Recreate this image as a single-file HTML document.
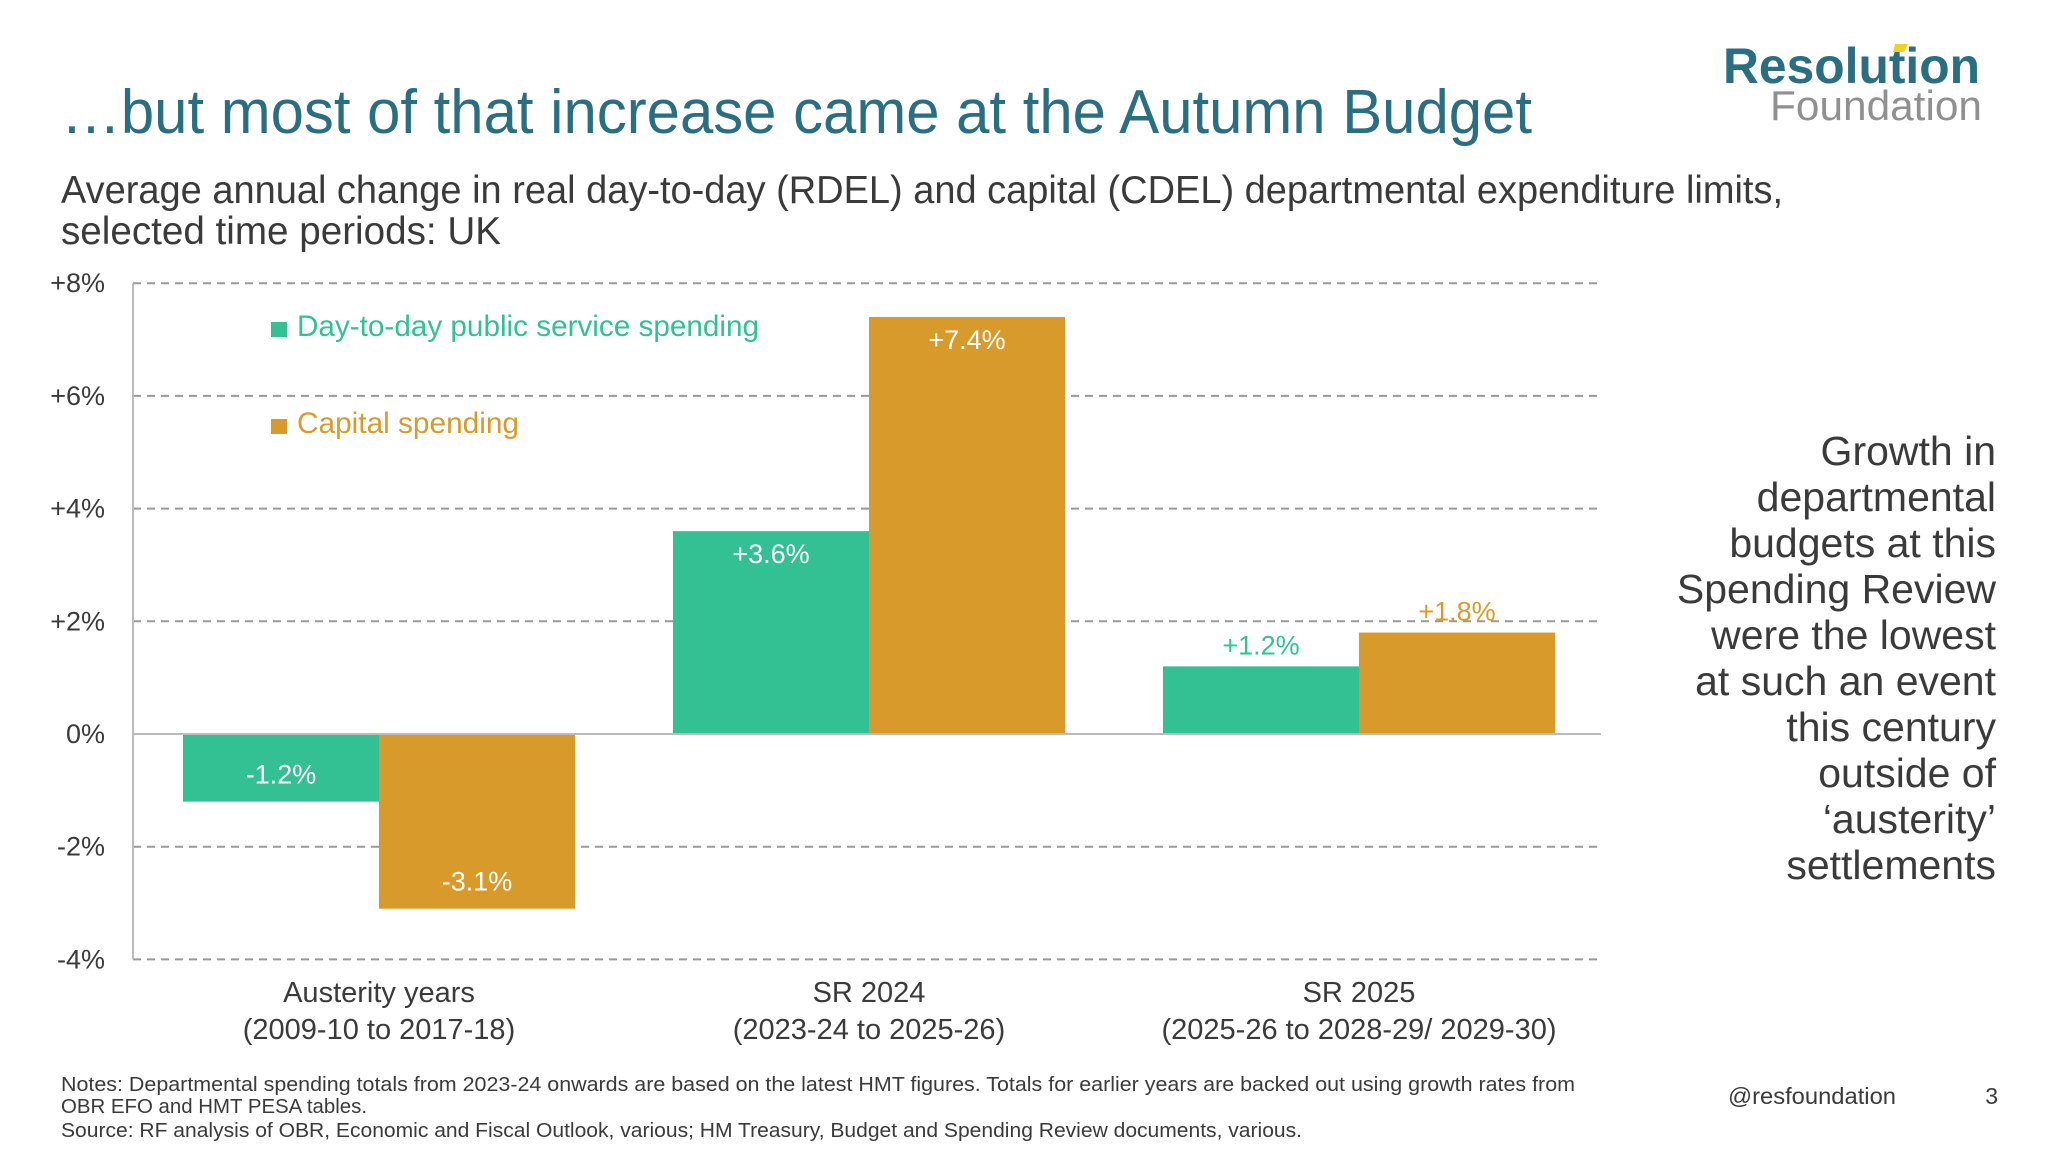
<!DOCTYPE html>
<html><head><meta charset="utf-8"><style>
html,body{margin:0;padding:0;background:#fff;}
svg{display:block;font-family:"Liberation Sans Narrow","Liberation Sans",sans-serif;}
</style></head><body>
<svg id="chart" width="2048" height="1152" viewBox="0 0 2048 1152" xmlns="http://www.w3.org/2000/svg">
<text x="1723" y="83" font-size="50" font-weight="bold" fill="#2a6e82" textLength="257" lengthAdjust="spacingAndGlyphs" font-family="Liberation Sans, sans-serif">Resolution</text>
<polygon points="1895,44 1908,44 1904,52 1893,52" fill="#f0d020"/>
<text x="1770" y="120" font-size="42" fill="#909090" textLength="212" lengthAdjust="spacingAndGlyphs" font-family="Liberation Sans, sans-serif">Foundation</text>
<text x="61" y="133" font-size="62" fill="#2a6e82" textLength="1471" lengthAdjust="spacingAndGlyphs">…but most of that increase came at the Autumn Budget</text>
<text x="61" y="203" font-size="39" fill="#3a3a3a" textLength="1722" lengthAdjust="spacingAndGlyphs">Average annual change in real day-to-day (RDEL) and capital (CDEL) departmental expenditure limits,</text>
<text x="61" y="244" font-size="39" fill="#3a3a3a" textLength="440" lengthAdjust="spacingAndGlyphs">selected time periods: UK</text>
<g id="plot"></g>
<rect x="271" y="322" width="16" height="15" fill="#33c194"/>
<text x="297" y="336" font-size="30" fill="#33c194" textLength="462" lengthAdjust="spacingAndGlyphs">Day-to-day public service spending</text>
<rect x="271" y="419" width="16" height="15" fill="#d89b2b"/>
<text x="297" y="433" font-size="30" fill="#d89b2b" textLength="222" lengthAdjust="spacingAndGlyphs">Capital spending</text>
<g font-size="41" fill="#3a3a3a" text-anchor="end">
<text x="1996" y="465">Growth in</text>
<text x="1996" y="511">departmental</text>
<text x="1996" y="557">budgets at this</text>
<text x="1996" y="603">Spending Review</text>
<text x="1996" y="649">were the lowest</text>
<text x="1996" y="695">at such an event</text>
<text x="1996" y="741">this century</text>
<text x="1996" y="787">outside of</text>
<text x="1996" y="833">‘austerity’</text>
<text x="1996" y="879">settlements</text>
</g>
<g font-size="20" fill="#3a3a3a">
<text x="61" y="1091" textLength="1514" lengthAdjust="spacingAndGlyphs">Notes: Departmental spending totals from 2023-24 onwards are based on the latest HMT figures. Totals for earlier years are backed out using growth rates from</text>
<text x="61" y="1113" textLength="306" lengthAdjust="spacingAndGlyphs">OBR EFO and HMT PESA tables.</text>
<text x="61" y="1137" textLength="1241" lengthAdjust="spacingAndGlyphs">Source: RF analysis of OBR, Economic and Fiscal Outlook, various; HM Treasury, Budget and Spending Review documents, various.</text>
</g>
<text x="1728" y="1104" font-size="23" fill="#3a3a3a" textLength="168" lengthAdjust="spacingAndGlyphs">@resfoundation</text>
<text x="1998" y="1104" font-size="23" fill="#3a3a3a" text-anchor="end">3</text>
</svg>
<script>
const categories = ["Austerity years", "SR 2024", "SR 2025"];
const categorySub = ["(2009-10 to 2017-18)", "(2023-24 to 2025-26)", "(2025-26 to 2028-29/ 2029-30)"];
const dayToDay = [-1.2, 3.6, 1.2];
const capital = [-3.1, 7.4, 1.8];
const dayLabels = ["-1.2%", "+3.6%", "+1.2%"];
const capLabels = ["-3.1%", "+7.4%", "+1.8%"];
const yTicks = [8, 6, 4, 2, 0, -2, -4];
const yTickLabels = ["+8%", "+6%", "+4%", "+2%", "0%", "-2%", "-4%"];

const NS = "http://www.w3.org/2000/svg";
const plot = document.getElementById('plot');
const X0 = 133, X1 = 1601, Y0 = 734, PER = 56.35;
function y(v){ return Y0 - v * PER; }
const groupW = 490, firstGroup = 183, barW = 196;
function gx(i){ return firstGroup + i * groupW; }
function mk(tag, attrs){ const e = document.createElementNS(NS, tag); for (const k in attrs) e.setAttribute(k, attrs[k]); plot.appendChild(e); return e; }

yTicks.forEach((t, i) => {
  if (t !== 0) {
    const l = mk('line', {x1: X0, x2: X1, y1: y(t), y2: y(t), stroke: '#999', 'stroke-width': 2, 'stroke-dasharray': '8,6'});
    
    
  }
  const tx = mk('text', {x: 105, y: y(t) + 9, 'font-size': 27, fill: '#3a3a3a', 'text-anchor': 'end'});
  tx.textContent = yTickLabels[i];
  
  
});
const ax = mk('line', {x1: X0, x2: X0, y1: y(8), y2: y(-4), stroke: '#bbb', 'stroke-width': 2});



categories.forEach((c, i) => {
  [[dayToDay[i], '#33c194', dayLabels[i], 0], [capital[i], '#d89b2b', capLabels[i], 1]].forEach(([v, col, lab, k]) => {
    const bx = gx(i) + k * barW;
    const r = mk('rect', {x: bx, y: Math.min(y(v), Y0), width: barW, height: Math.abs(y(v) - Y0), fill: col});
    
    
    const small = Math.abs(v) < 2;
    let ly, fill = '#fff';
    if (v >= 0) { if (small) { ly = y(v) - 12; fill = col; } else ly = y(v) + 32; }
    else { ly = y(v) - 18; }
    const t = mk('text', {x: bx + barW / 2, y: ly, 'font-size': 27, fill: fill, 'text-anchor': 'middle'});
    t.textContent = lab;
    
    
  });
  const cl = mk('text', {x: gx(i) + barW, y: 1002, 'font-size': 29, fill: '#3a3a3a', 'text-anchor': 'middle'});
  cl.textContent = c;
  
  
  const cs = mk('text', {x: gx(i) + barW, y: 1039, 'font-size': 29, fill: '#3a3a3a', 'text-anchor': 'middle'});
  cs.textContent = categorySub[i];
  
  
});
const zl = mk('line', {x1: X0, x2: X1, y1: Y0, y2: Y0, stroke: '#bbb', 'stroke-width': 2});


</script>
</body></html>
